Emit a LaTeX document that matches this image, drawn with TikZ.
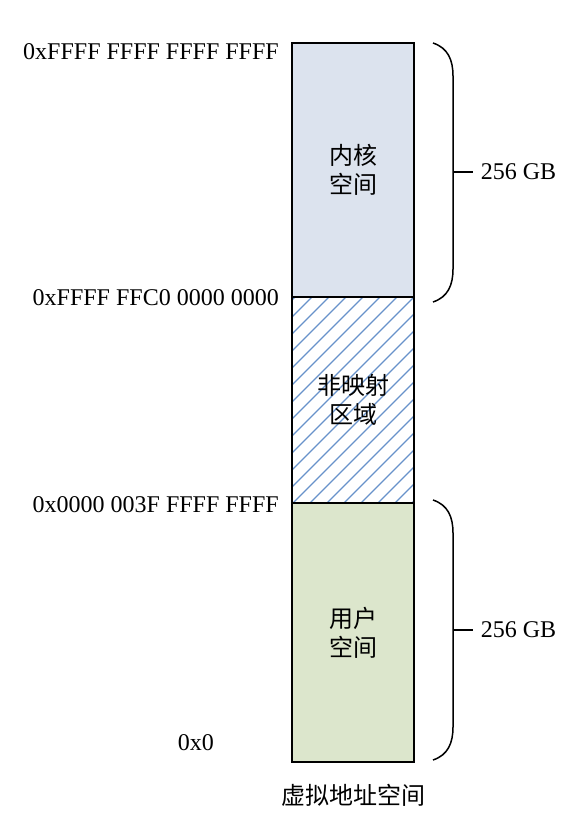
\documentclass[tikz,border=0pt]{standalone}
\usepackage{fontspec}
\setmainfont{Liberation Serif}
\newfontfamily\cjk{Noto Sans CJK SC}
\usepackage{tikz}
\usetikzlibrary{calc,positioning}

\definecolor{kernelblue}{HTML}{DCE3EE}
\definecolor{usergreen}{HTML}{DCE6CC}
\definecolor{hatchblue}{HTML}{6892CA}

\tikzset{
    region/.style={draw,line width=1.8pt,minimum width=122pt,inner sep=0pt,outer sep=0pt,align=center,font=\cjk\fontsize{24}{29}\selectfont},
    addr/.style={anchor=east,inner sep=0pt,font=\fontsize{24}{28}\selectfont},
    size/.style={anchor=west,inner sep=0pt,font=\fontsize{24}{28}\selectfont},
    brace/.style={line width=1.5pt}
}

\begin{document}
\begin{tikzpicture}[x=1pt,y=-1pt]
        \useasboundingbox (0, 0) rectangle (576, 840);
        \node [region,fill=kernelblue,minimum height=254pt] (kernel) at (353, 170) {内核\\空间};
        \node [region,minimum height=206pt,
            path picture={
                \foreach \i in {-220, -203, ..., 130}{
                    \draw [hatchblue,line width=1.1pt] ($(path picture bounding box.south west)+(\i,0)$) -- ++(250,-250);
                }
            }] (unmapped) at (353, 400) {非映射\\区域};
        \node [region,fill=usergreen,minimum height=259pt] (user) at (353, 632.5) {用户\\空间};
        \draw [line width=1.8pt] (kernel.north west) rectangle (user.south east);
        \draw [line width=1.8pt] (kernel.south west) -- (kernel.south east);
        \draw [line width=1.8pt] (user.north west) -- (user.north east);
        \node [addr] (top) at (279, 52) {0xFFFF FFFF FFFF FFFF};
        \node [addr] (kstart) at (279, 298) {0xFFFF FFC0 0000 0000};
        \node [addr] (uend) at (279, 505) {0x0000 003F FFFF FFFF};
        \node [addr] (zero) at (214, 743) {0x0};
        \node [below=22pt of user.south,inner sep=0pt,font=\cjk\fontsize{24}{28}\selectfont] (title) {虚拟地址空间};
        % braces
        \coordinate (kt) at (433, 43);
        \coordinate (kb) at (433, 302);
        \coordinate (kmid) at (453, 172);
        \coordinate (ut) at (433, 500);
        \coordinate (ub) at (433, 760);
        \coordinate (umid) at (453, 630);
        \draw [brace] (kt) .. controls (448, 48) and (453, 60) .. (453, 76) -- (453, 269) .. controls (453, 285) and (448, 297) .. (kb);
        \draw [brace] (ut) .. controls (448, 505) and (453, 517) .. (453, 533) -- (453, 727) .. controls (453, 743) and (448, 755) .. (ub);
        \draw [brace] (kmid) -- ++(20, 0) node [size,right=7pt] (ksize) {256 GB};
        \draw [brace] (umid) -- ++(20, 0) node [size,right=7pt] (usize) {256 GB};
    \end{tikzpicture}
\end{document}
